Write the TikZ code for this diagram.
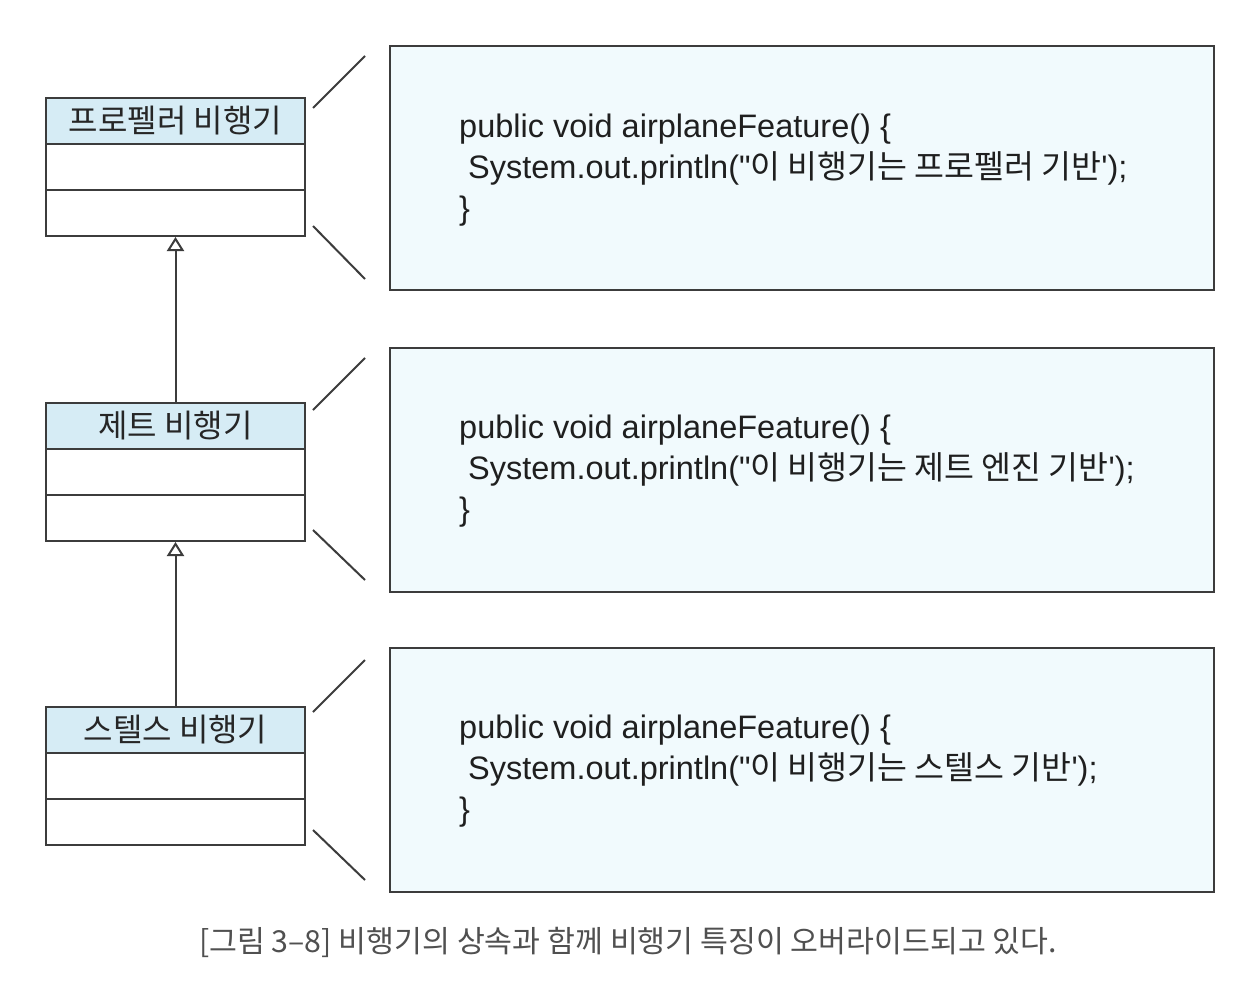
\documentclass[tikz,border=0pt]{standalone}
\usepackage{fontspec}
\setmainfont{Liberation Sans}
\newfontfamily\codefont{Liberation Sans}
\newfontfamily\kr{Noto Sans CJK KR}
\usetikzlibrary{arrows.meta}
\definecolor{hdr}{RGB}{214,236,245}
\definecolor{codebg}{RGB}{241,250,253}
\definecolor{ln}{RGB}{60,60,60}
\definecolor{captc}{RGB}{80,80,80}
\tikzset{
  clsbase/.style={draw=ln, line width=2pt, minimum width=259pt, minimum height=46pt, inner sep=0pt, anchor=north west},
  clshead/.style={clsbase, fill=hdr, font=\kr\fontsize{32}{33}\selectfont, text=black!85},
  clsrow/.style={clsbase, fill=white},
  codebox/.style={draw=ln, line width=2pt, fill=codebg, minimum width=824pt, minimum height=244pt, inner sep=0pt, anchor=north west},
  codetext/.style={anchor=west, align=left, inner sep=0pt, font=\codefont\fontsize{32.5}{41}\selectfont, text=black!88},
  zoomline/.style={draw=ln, line width=2pt},
  inherit/.style={draw=ln, line width=2pt, -{Triangle[open, width=17pt, length=14pt, fill=white]}},
  capt/.style={font=\kr\fontsize{30.3}{32}\selectfont, text=captc}
}
\begin{document}
\begin{tikzpicture}[x=1pt,y=-1pt]
\useasboundingbox[fill=white] (0,0) rectangle (1253,982);

% class 1
\node[clshead] (c1h) at (45,97) {프로펠러 비행기};
\node[clsrow] (c1a) at (45,143) {};
\node[clsrow] (c1b) at (45,189) {};
% class 2
\node[clshead] (c2h) at (45,402) {제트 비행기};
\node[clsrow] (c2a) at (45,448) {};
\node[clsrow] (c2b) at (45,494) {};
% class 3
\node[clshead] (c3h) at (45,706) {스텔스 비행기};
\node[clsrow] (c3a) at (45,752) {};
\node[clsrow] (c3b) at (45,798) {};

% inheritance arrows
\draw[inherit] (c2h.north) -- (c1b.south);
\draw[inherit] (c3h.north) -- (c2b.south);

% code boxes
\node[codebox] (b1) at (389,45) {};
\node[codebox] (b2) at (389,347) {};
\node[codebox] (b3) at (389,647) {};

\node[codetext] (t1) at (459,170) {public void airplaneFeature() \{\\\hspace{9pt}System.out.println("{\kr 이 비행기는 프로펠러 기반}');\\\}};
\node[codetext] (t2) at (459,471) {public void airplaneFeature() \{\\\hspace{9pt}System.out.println("{\kr 이 비행기는 제트 엔진 기반}');\\\}};
\node[codetext] (t3) at (459,771) {public void airplaneFeature() \{\\\hspace{9pt}System.out.println("{\kr 이 비행기는 스텔스 기반}');\\\}};

% zoom lines
\draw[zoomline] (313,108) -- (365,56);
\draw[zoomline] (313,226) -- (365,279);
\draw[zoomline] (313,410) -- (365,358);
\draw[zoomline] (313,530) -- (365,580);
\draw[zoomline] (313,712) -- (365,660);
\draw[zoomline] (313,830) -- (365,880);

% caption
\node[capt] (cap) at (628,942) {[그림 3–8] 비행기의 상속과 함께 비행기 특징이 오버라이드되고 있다.};
\end{tikzpicture}
\end{document}
